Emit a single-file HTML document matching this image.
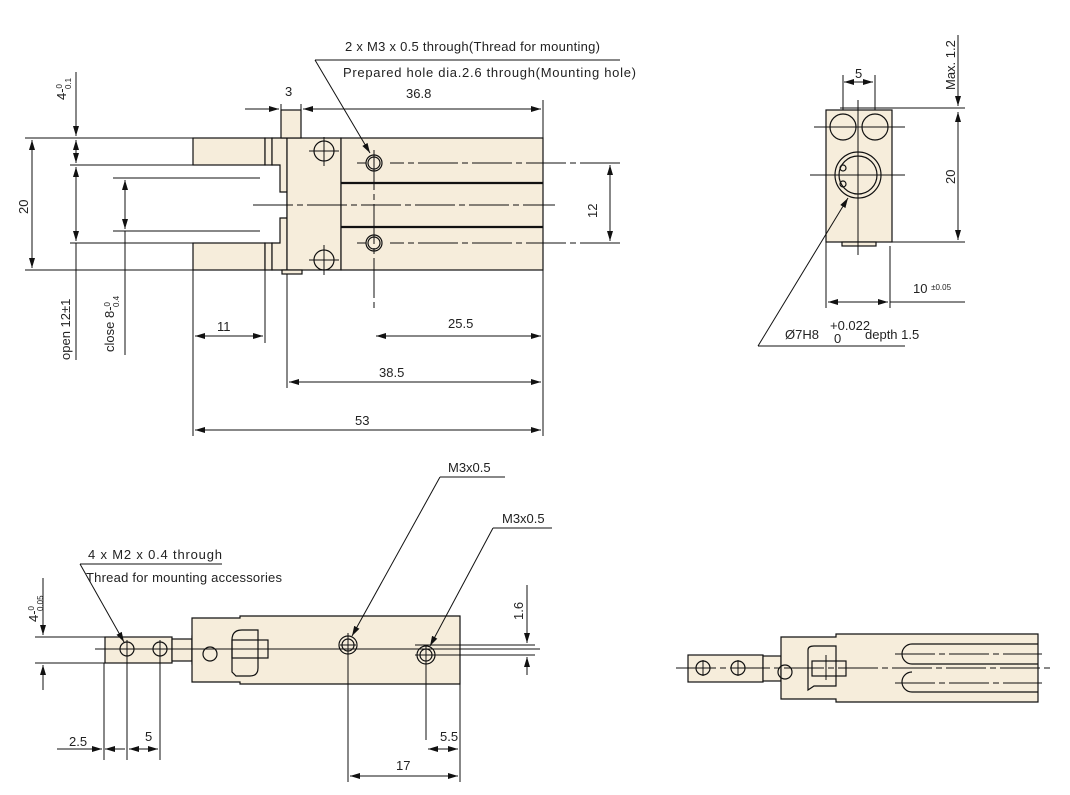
<!DOCTYPE html>
<html><head><style>body{margin:0;background:#fff}svg{display:block}text{font-family:"Liberation Sans",sans-serif;fill:#222;font-size:13px}</style></head><body>
<svg width="1070" height="795" viewBox="0 0 1070 795" xmlns="http://www.w3.org/2000/svg">
<defs><marker id="a" viewBox="0 0 10 6" refX="10" refY="3" markerWidth="10" markerHeight="6" orient="auto-start-reverse" markerUnits="userSpaceOnUse"><path d="M0,0L10,3L0,6z" fill="#111"/></marker></defs>
<g stroke="#111" stroke-width="1.2" fill="#f6eddb">
<rect x="193" y="138" width="72" height="27"/><rect x="193" y="243" width="72" height="27"/>
<rect x="265" y="138" width="7" height="27"/><rect x="265" y="243" width="7" height="27"/>
<path d="M272 138H287V270H272V243H280V218H287V192H280V165H272Z"/>
<rect x="287" y="138" width="54" height="132"/>
<rect x="341" y="138" width="202" height="132"/>
<rect x="281" y="110" width="20" height="28"/><rect x="282" y="270" width="20" height="4"/>
<circle cx="324" cy="151" r="10" fill="none"/><circle cx="324" cy="260" r="10" fill="none"/>
<circle cx="374" cy="163" r="8" fill="none"/><circle cx="374" cy="163" r="6" fill="none"/>
<circle cx="374" cy="243" r="8" fill="none"/><circle cx="374" cy="243" r="6" fill="none"/>
<rect x="826" y="110" width="66" height="132"/><rect x="842" y="242" width="34" height="4"/>
<circle cx="843" cy="127" r="13" fill="none"/><circle cx="875" cy="127" r="13" fill="none"/>
<circle cx="858" cy="175" r="23" fill="none"/><circle cx="858" cy="175" r="19" fill="none"/>
<circle cx="843" cy="168" r="3" fill="none"/><circle cx="843" cy="184" r="3" fill="none"/>
<rect x="105" y="637" width="67" height="26"/><rect x="172" y="639" width="20" height="22"/><rect x="192" y="636" width="12" height="28"/>
<path d="M192 618H240V616H460V684H240V682H192Z"/>
<path d="M232 672V640Q232 630 242 630H258V668Q258 676 250 676H236Z" fill="none"/>
<rect x="232" y="640" width="36" height="18" fill="none"/>
<circle cx="127" cy="649" r="7" fill="none"/><circle cx="160" cy="649" r="7" fill="none"/>
<circle cx="348" cy="645" r="9" fill="none"/><circle cx="348" cy="645" r="6" fill="none"/>
<circle cx="426" cy="655" r="9" fill="none"/><circle cx="426" cy="655" r="6" fill="none"/>
<circle cx="210" cy="654" r="7" fill="none"/>
<rect x="688" y="655" width="75" height="27"/><rect x="763" y="656" width="18" height="25"/>
<path d="M781 637H836V634H1038V702H836V699H781Z"/>
<path d="M808 690V650Q808 646 814 646H836V686H814Z" fill="none"/>
<rect x="812" y="661" width="34" height="15" fill="none"/>
<circle cx="703" cy="668" r="7" fill="none"/><circle cx="738" cy="668" r="7" fill="none"/>
<circle cx="785" cy="672" r="7" fill="none"/>
<path d="M912 644H1038M912 692H1038M912 644A10 10 0 0 0 912 664H1038M912 672A10 10 0 0 0 912 692" fill="none"/>
</g>
<g stroke="#111" stroke-width="2.2" fill="none"><path d="M341 183H543M341 227H543"/></g>
<g stroke="#111" stroke-width="1" fill="none">
<path d="M253 205H555M374 150V312M620 163H390M620 243H390M357 163H366M357 243H366" stroke-dasharray="40,4,6,4"/>
<path d="M324 137V166M309 151H339M324 245V275M309 260H339M324 145V157M318 151H330M324 254V266M318 260H330"/>
<path d="M25 138H193M25 270H193M70 165H193M70 243H193M113 178H260M113 231H260" />
<path d="M193 270V436M265 270V343M287 274V388M543 100V436M281 110V104M301 110V104"/>
<line x1="32" y1="140" x2="32" y2="268" marker-start="url(#a)" marker-end="url(#a)"/>
<line x1="76" y1="72" x2="76" y2="136" marker-end="url(#a)"/>
<line x1="76" y1="140" x2="76" y2="163" marker-start="url(#a)" marker-end="url(#a)"/>
<line x1="76" y1="167" x2="76" y2="241" marker-start="url(#a)" marker-end="url(#a)"/>
<line x1="76" y1="243" x2="76" y2="360"/>
<line x1="125" y1="180" x2="125" y2="229" marker-start="url(#a)" marker-end="url(#a)"/>
<line x1="125" y1="231" x2="125" y2="355"/>
<line x1="245" y1="109" x2="279" y2="109" marker-end="url(#a)"/>
<line x1="303" y1="109" x2="541" y2="109" marker-start="url(#a)" marker-end="url(#a)"/>
<line x1="195" y1="336" x2="263" y2="336" marker-start="url(#a)" marker-end="url(#a)"/>
<line x1="376" y1="336" x2="541" y2="336" marker-start="url(#a)" marker-end="url(#a)"/>
<line x1="289" y1="382" x2="541" y2="382" marker-start="url(#a)" marker-end="url(#a)"/>
<line x1="195" y1="430" x2="541" y2="430" marker-start="url(#a)" marker-end="url(#a)"/>
<line x1="610" y1="165" x2="610" y2="241" marker-start="url(#a)" marker-end="url(#a)"/>
<path d="M315 60H620"/><line x1="315" y1="60" x2="370" y2="153" marker-end="url(#a)"/>
<path d="M858 100V255M810 175H905M814 127H905M843 110V75M875 110V75M840 108H965M892 242H965M826 242V308M890 246V308M858 162V188M845 175H871" />
<line x1="844" y1="82" x2="873" y2="82" marker-start="url(#a)" marker-end="url(#a)"/>
<line x1="958" y1="35" x2="958" y2="106" marker-end="url(#a)"/>
<line x1="958" y1="112" x2="958" y2="240" marker-start="url(#a)" marker-end="url(#a)"/>
<line x1="828" y1="302" x2="888" y2="302" marker-start="url(#a)" marker-end="url(#a)"/>
<path d="M890 302H965"/>
<path d="M758 346H905"/><line x1="758" y1="346" x2="848" y2="198" marker-end="url(#a)"/>
<path d="M95 649H540M35 637H105M35 663H105M104 663V760M127 640V760M160 640V760M348 633V782M426 645V740M460 684V782M415 645H535M415 655H535" />
<path d="M127 641V657M119 649H135M160 641V657M152 649H168M348 636V654M340 645H356M426 646V664M418 655H434"/>
<line x1="43" y1="578" x2="43" y2="635" marker-end="url(#a)"/>
<line x1="43" y1="665" x2="43" y2="690" marker-start="url(#a)"/>
<line x1="527" y1="585" x2="527" y2="643" marker-end="url(#a)"/>
<line x1="527" y1="657" x2="527" y2="675" marker-start="url(#a)"/>
<line x1="57" y1="749" x2="102" y2="749" marker-end="url(#a)"/>
<line x1="129" y1="749" x2="158" y2="749" marker-start="url(#a)" marker-end="url(#a)"/>
<line x1="105" y1="749" x2="125" y2="749" marker-start="url(#a)"/>
<line x1="428" y1="749" x2="458" y2="749" marker-start="url(#a)" marker-end="url(#a)"/>
<line x1="350" y1="776" x2="458" y2="776" marker-start="url(#a)" marker-end="url(#a)"/>
<path d="M80 564H222"/><line x1="80" y1="564" x2="124" y2="642" marker-end="url(#a)"/>
<path d="M440 477H505"/><line x1="440" y1="477" x2="352" y2="636" marker-end="url(#a)"/>
<path d="M493 528H552"/><line x1="493" y1="528" x2="430" y2="646" marker-end="url(#a)"/>
<path d="M676 668H1052M703 660V676M695 668H711M738 660V676M730 668H746M826 655V680M895 654H1042M895 683H1042" stroke-dasharray="40,4,6,4"/>
</g>
<g>
<text x="345" y="51" textLength="255">2 x M3 x 0.5 through(Thread for mounting)</text>
<text x="343" y="77" textLength="293">Prepared hole dia.2.6 through(Mounting hole)</text>
<text x="285" y="96">3</text><text x="406" y="98">36.8</text>
<text x="217" y="331">11</text><text x="448" y="328">25.5</text><text x="379" y="377">38.5</text><text x="355" y="425">53</text>
<text transform="translate(28,214) rotate(-90)">20</text>
<text transform="translate(597,218) rotate(-90)">12</text>
<text transform="translate(66,100) rotate(-90)">4-<tspan font-size="8" dy="-4">0</tspan><tspan font-size="8" dx="-5" dy="9">0.1</tspan></text>
<text transform="translate(70,360) rotate(-90)">open 12±1</text>
<text transform="translate(114,352) rotate(-90)">close 8-<tspan font-size="8" dy="-4">0</tspan><tspan font-size="8" dx="-5" dy="9">0.4</tspan></text>
<text x="855" y="78">5</text>
<text transform="translate(955,90) rotate(-90)">Max. 1.2</text>
<text transform="translate(955,184) rotate(-90)">20</text>
<text x="913" y="293">10 <tspan font-size="8" dy="-3">±0.05</tspan></text>
<text x="785" y="339">Ø7H8</text><text x="830" y="330" font-size="8">+0.022</text><text x="834" y="343" font-size="8">0</text><text x="865" y="339">depth 1.5</text>
<text x="88" y="559" textLength="134">4 x M2 x 0.4 through</text>
<text x="86" y="582" textLength="196">Thread for mounting accessories</text>
<text transform="translate(38,622) rotate(-90)">4-<tspan font-size="8" dy="-4">0</tspan><tspan font-size="8" dx="-5" dy="9">0.05</tspan></text>
<text transform="translate(523,620) rotate(-90)">1.6</text>
<text x="448" y="472">M3x0.5</text><text x="502" y="523">M3x0.5</text>
<text x="69" y="746">2.5</text><text x="145" y="741">5</text><text x="440" y="741">5.5</text><text x="396" y="770">17</text>
</g>
</svg>
</body></html>
